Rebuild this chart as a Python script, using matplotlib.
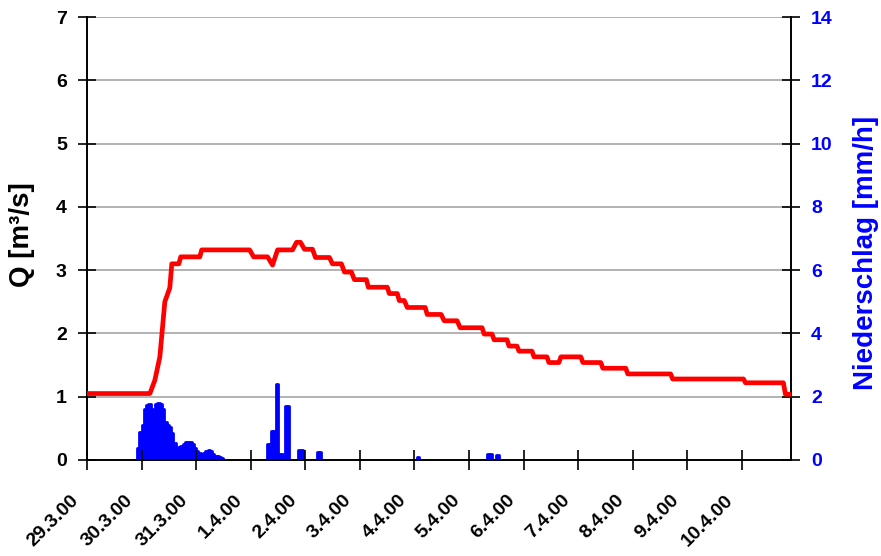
import matplotlib
matplotlib.use("Agg")
import matplotlib.pyplot as plt
import matplotlib.transforms as mtransforms
import numpy as np

plt.rcParams['font.family'] = ['Liberation Sans', 'DejaVu Sans']
plt.rcParams['font.weight'] = 'bold'

# ---- data ----
# discharge: time in days since 29.3.00 00:00
q_days = [0.0, 1.152, 1.243, 1.335, 1.426, 1.517, 1.554, 1.682, 1.718, 2.066, 2.102,
          2.980, 3.053, 3.309, 3.400, 3.492, 3.766, 3.839, 3.912, 3.985, 4.132, 4.186,
          4.442, 4.497, 4.662, 4.717, 4.845, 4.899, 5.119, 5.155, 5.503, 5.539, 5.686,
          5.722, 5.814, 5.868, 6.197, 6.234, 6.490, 6.545, 6.782, 6.837, 7.240, 7.276,
          7.422, 7.459, 7.697, 7.733, 7.879, 7.916, 8.154, 8.190, 8.428, 8.464, 8.647,
          8.684, 9.049, 9.086, 9.415, 9.452, 9.872, 9.909, 10.695, 10.731, 12.029,
          12.066, 12.761, 12.797, 12.9]
q_vals = [1.05, 1.05, 1.26, 1.63, 2.5, 2.72, 3.1, 3.1, 3.21, 3.21, 3.32,
          3.32, 3.21, 3.21, 3.08, 3.32, 3.32, 3.44, 3.44, 3.33, 3.33, 3.2,
          3.2, 3.1, 3.1, 2.97, 2.97, 2.85, 2.85, 2.73, 2.73, 2.63, 2.63,
          2.52, 2.52, 2.41, 2.41, 2.3, 2.3, 2.2, 2.2, 2.09, 2.09, 1.99,
          1.99, 1.9, 1.9, 1.8, 1.8, 1.72, 1.72, 1.63, 1.63, 1.54, 1.54,
          1.63, 1.63, 1.54, 1.54, 1.45, 1.45, 1.36, 1.36, 1.28, 1.28,
          1.22, 1.22, 1.04, 1.04]

# precipitation: start hour since 29.3.00 00:00, intensity mm/h
rain_hour = list(range(22, 60)) + [79, 80, 81, 82, 83, 84, 85, 87, 88,
                                   93, 94, 101, 102, 145, 176, 177, 180]
rain_mm = [0.37, 0.88, 1.1, 1.6, 1.75, 1.76, 1.62, 1.28, 1.78, 1.8,
           1.78, 1.62, 1.2, 1.1, 1.05, 0.85, 0.53, 0.3, 0.42, 0.45,
           0.5, 0.57, 0.58, 0.56, 0.5, 0.38, 0.3, 0.22, 0.2, 0.22,
           0.28, 0.31, 0.28, 0.2, 0.14, 0.13, 0.08, 0.05,
           0.5, 0.5, 0.93, 0.93, 2.4, 0.19, 0.19, 1.7, 1.7,
           0.33, 0.33, 0.25, 0.25, 0.1, 0.19, 0.19, 0.15]

tick_days = list(range(13))
tick_labels = ["29.3.00", "30.3.00", "31.3.00", "1.4.00", "2.4.00", "3.4.00",
               "4.4.00", "5.4.00", "6.4.00", "7.4.00", "8.4.00", "9.4.00", "10.4.00"]

BLUE = '#0000FF'

fig = plt.figure(figsize=(8.81, 5.56), dpi=100)
ax1 = fig.add_axes([87/881, 1-460/556, (791-87)/881, (460-17)/556])
ax2 = ax1.twinx()

# precipitation bars (right axis)
rain_x = np.array(rain_hour) / 24.0
ax2.bar(rain_x, rain_mm, width=1/24, align='edge', color=BLUE,
        edgecolor=BLUE, linewidth=2.0, joinstyle='round', zorder=3)
ax2.set_ylim(0, 14)
ax2.set_yticks(range(0, 15, 2))
ax2.set_axisbelow(True)
ax2.grid(axis='y', color='#a6a6a6', linewidth=1.2, zorder=0)
ax2.tick_params(axis='y', direction='inout', length=13, width=1.2,
                labelsize=14, pad=8, colors='black')
for t in ax2.get_yticklabels():
    t.set_color(BLUE)
    t.set_fontweight('bold')

# discharge line (left axis)
ax1.set_zorder(ax2.get_zorder() + 1)
ax1.patch.set_visible(False)
ax1.plot(q_days, q_vals, color='#FF0000', linewidth=3.4,
         solid_joinstyle='round', solid_capstyle='butt', zorder=4)
ax1.set_ylim(0, 7)
ax1.set_yticks(range(0, 8))
ax1.set_xlim(0, 12.9)
ax1.set_xticks(tick_days)
ax1.set_xticklabels(tick_labels, rotation=45, ha='right', va='top',
                    fontsize=14, fontweight='bold')
ax1.tick_params(axis='x', direction='inout', length=14, width=1.2, pad=16)
ax1.tick_params(axis='y', direction='inout', length=13, width=1.2,
                labelsize=14, pad=8)
for t in ax1.get_yticklabels():
    t.set_fontweight('bold')
offset = mtransforms.ScaledTranslation(-5/100, 0, fig.dpi_scale_trans)
for t in ax1.get_xticklabels():
    t.set_transform(t.get_transform() + offset)

for ax in (ax1, ax2):
    ax.spines['top'].set_visible(False)
    for s in ('left', 'right', 'bottom'):
        ax.spines[s].set_linewidth(1.2)
        ax.spines[s].set_color('black')

fig.text(22/881, 1-235/556, 'Q [m³/s]', rotation=90, ha='center', va='center',
         fontsize=20, fontweight='bold', color='black')
fig.text(866/881, 1-253/556, 'Niederschlag [mm/h]', rotation=90, ha='center',
         va='center', fontsize=20, fontweight='bold', color=BLUE)

fig.savefig('out.png', dpi=100)
